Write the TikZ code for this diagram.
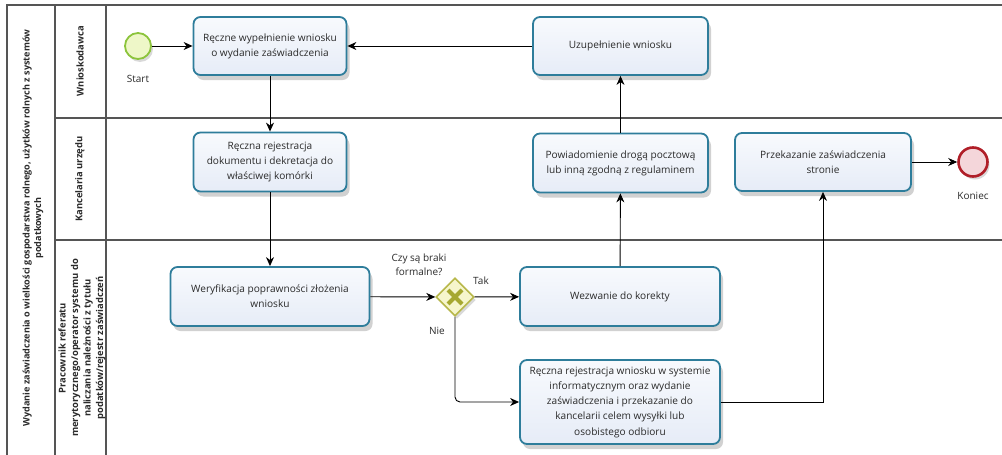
\documentclass[tikz,border=0pt]{standalone}
\usepackage{fontspec}
\setmainfont{Open Sans}
\usetikzlibrary{arrows.meta,shapes.geometric,shadows}
\definecolor{taskline}{HTML}{2E7D9B}
\definecolor{tasktop}{HTML}{F8FAFD}
\definecolor{taskbot}{HTML}{E6ECF7}
\definecolor{frameline}{HTML}{555555}
\definecolor{txt}{HTML}{2A2A2A}
\definecolor{startline}{HTML}{8CC43C}
\definecolor{startfill}{HTML}{EEF7C8}
\definecolor{endline}{HTML}{B01E28}
\definecolor{endfill}{HTML}{F4D6DA}
\definecolor{gwline}{HTML}{B8B84A}
\definecolor{gwfill}{HTML}{F6F6CC}
\definecolor{gwx}{HTML}{A6A830}
\tikzset{
  task/.style={draw=taskline, line width=1.8pt, rounded corners=7pt,
    top color=tasktop, bottom color=taskbot, align=center, text=txt,
    font=\fontsize{10.1}{15.2}\selectfont, inner sep=0pt,
    drop shadow={shadow xshift=3pt, shadow yshift=-5pt, opacity=0.18, fill=black}},
  conn/.style={draw=black, line width=0.9pt, -{Stealth[length=9pt,width=8pt]}},
  lbl/.style={text=txt, font=\fontsize{10}{14}\selectfont, align=center},
  frame/.style={draw=frameline, line width=1.1pt},
  lanelbl/.style={rotate=90, text=txt, font=\bfseries\fontsize{9.4}{12.5}\selectfont, align=center}
}
\begin{document}
\begin{tikzpicture}[x=1pt,y=-1pt]
\useasboundingbox (0,0) rectangle (1002,455);
% frame
\draw[frame] (1002,5) -- (7,5) -- (7,455);
\draw[frame] (55,5) -- (55,455);
\draw[frame] (106,5) -- (106,455);
\draw[frame] (55,118) -- (1002,118);
\draw[frame] (55,240) -- (1002,240);
% pool and lane labels
\node[lanelbl, font=\bfseries\fontsize{9.1}{11.5}\selectfont] (pool) at (33,228)
  {Wydanie zaświadczenia o wielkości gospodarstwa rolnego, użytków rolnych z systemów\\ podatkowych};
\node[lanelbl] (lane1) at (80,61) {Wnioskodawca};
\node[lanelbl] (lane2) at (80,179) {Kancelaria urzędu};
\begin{scope}
\clip (55,240) rectangle (106,455);
\node[lanelbl] (lane3) at (82,348) {Pracownik referatu\\ merytorycznego/operator systemu do\\ naliczania należności z tytułu\\ podatków/rejestr zaświadczeń};
\end{scope}
% events
\node[circle, draw=startline, line width=1.8pt, fill=startfill, minimum size=26pt, inner sep=0pt,
  drop shadow={shadow xshift=2pt, shadow yshift=-3pt, opacity=0.15, fill=black}] (start) at (138,46) {};
\node[lbl] (startlbl) at (138,79) {Start};
\node[circle, draw=endline, line width=2.6pt, fill=endfill, minimum size=29pt, inner sep=0pt,
  drop shadow={shadow xshift=2pt, shadow yshift=-3pt, opacity=0.15, fill=black}] (end) at (973,162) {};
\node[lbl] (endlbl) at (973,196) {Koniec};
% tasks
\node[task, minimum width=153pt, minimum height=58pt] (t1) at (270,46) {Ręczne wypełnienie wniosku\\ o wydanie zaświadczenia};
\node[task, minimum width=153pt, minimum height=59pt] (t2) at (270,162) {Ręczna rejestracja\\ dokumentu i dekretacja do\\ właściwej komórki};
\node[task, minimum width=175pt, minimum height=58pt] (uz) at (620.5,46) {Uzupełnienie wniosku};
\node[task, minimum width=175pt, minimum height=59pt] (pow) at (620.5,163) {Powiadomienie drogą pocztową\\ lub inną zgodną z regulaminem};
\node[task, minimum width=176pt, minimum height=58pt] (prz) at (823,162) {Przekazanie zaświadczenia\\ stronie};
\node[task, minimum width=199pt, minimum height=59pt] (wer) at (270,296.5) {Weryfikacja poprawności złożenia\\ wniosku};
\node[task, minimum width=200pt, minimum height=59pt] (wez) at (620,296.5) {Wezwanie do korekty};
\node[task, minimum width=200pt, minimum height=84pt] (rej) at (620,402) {Ręczna rejestracja wniosku w systemie\\ informatycznym oraz wydanie\\ zaświadczenia i przekazanie do\\ kancelarii celem wysyłki lub\\ osobistego odbioru};
% gateway
\node[diamond, draw=gwline, line width=1.6pt, fill=gwfill, minimum width=38pt, minimum height=38pt, inner sep=0pt,
  drop shadow={shadow xshift=2pt, shadow yshift=-3pt, opacity=0.15, fill=black}] (gw) at (455,297) {};
\draw[gwx, line width=4.2pt] ([shift={(-7,-7)}]gw.center) -- ([shift={(7,7)}]gw.center);
\draw[gwx, line width=4.2pt] ([shift={(-7,7)}]gw.center) -- ([shift={(7,-7)}]gw.center);
\node[lbl] (gwq) at (419,265) {Czy są braki\\ formalne?};
\node[lbl] (tak) at (481,281) {Tak};
\node[lbl] (nie) at (437,331) {Nie};
% connectors
\draw[conn] (start) -- (t1);
\draw[conn] (uz) -- (t1);
\draw[conn] (t1) -- (t2);
\draw[conn] (t2) -- (wer);
\draw[conn] (wer) -- (gw);
\draw[conn] (gw) -- (wez);
\draw[conn, rounded corners=5pt] (gw.south) |- (rej.west);
\draw[conn] (wez) -- (pow);
\draw[conn] (pow) -- (uz);
\draw[conn] (rej.east) -| (prz.south);
\draw[conn] (prz) -- (end);
\end{tikzpicture}
\end{document}
